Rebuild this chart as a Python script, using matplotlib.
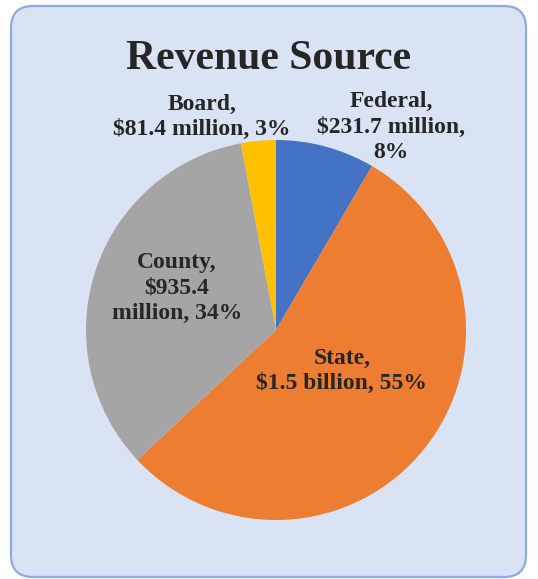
import matplotlib.pyplot as plt
from matplotlib.patches import FancyBboxPatch

# revenue by source, millions of dollars (clockwise from 12 o'clock)
sources = ["Federal", "State", "County", "Board"]
amounts = [231.7, 1500.0, 935.4, 81.4]
amount_text = ["$231.7 million,", "$1.5 billion,", "$935.4\nmillion,", "$81.4 million,"]
colors = ["#4472C4", "#ED7D31", "#A5A5A5", "#FFC000"]

plt.rcParams["font.family"] = ["Liberation Serif", "DejaVu Serif"]
text_color = "#262626"

fig = plt.figure(figsize=(5.38, 5.79), dpi=100)
ax = fig.add_axes([0, 0, 1, 1])

# rounded chart-area box
box = FancyBboxPatch((11, 2), 515, 571, boxstyle="round,pad=0,rounding_size=22",
                     facecolor="#DAE3F3", edgecolor="#8FAADC", linewidth=1.6)
ax.add_patch(box)

ax.pie(amounts, colors=colors, startangle=90, counterclock=False,
       center=(276, 249), radius=190, frame=True,
       wedgeprops={"linewidth": 0})
ax.set_xlim(0, 538)
ax.set_ylim(0, 579)
ax.set_aspect("equal")
ax.axis("off")

ax.text(269, 520, "Revenue Source", ha="center", va="center",
        fontsize=30, fontweight="bold", color=text_color)

# label text, laid out like the source chart
total = sum(amounts)
pcts = [round(a / total * 100) for a in amounts]
labels = [
    f"{sources[0]},\n{amount_text[0]}\n{pcts[0]}%",
    f"{sources[1]},\n{amount_text[1]} {pcts[1]}%",
    f"{sources[2]},\n{amount_text[2]} {pcts[2]}%",
    f"{sources[3]},\n{amount_text[3]} {pcts[3]}%",
]
label_pos = [(391, 452), (342, 208), (177, 291), (202, 462)]
for lab, (x, y) in zip(labels, label_pos):
    ax.text(x, y, lab, ha="center", va="center", fontsize=17,
            fontweight="bold", color=text_color, linespacing=1.3)

plt.savefig("out.png", dpi=100)
